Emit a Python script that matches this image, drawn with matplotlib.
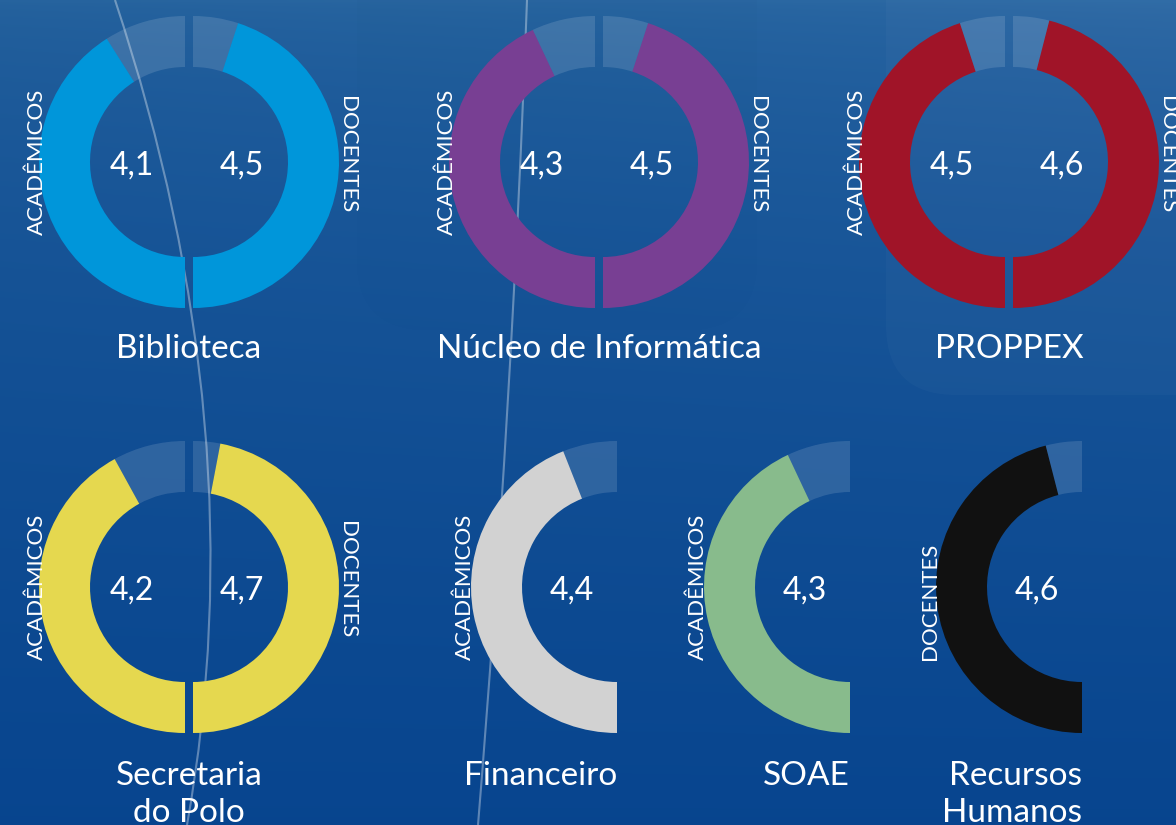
import numpy as np
import matplotlib.pyplot as plt
from matplotlib.patches import Wedge, FancyBboxPatch, PathPatch
from matplotlib.path import Path

# avaliacao dos setores (escala 0-5)
setores = ['Biblioteca', 'Núcleo de Informática', 'PROPPEX',
           'Secretaria\ndo Polo', 'Financeiro', 'SOAE', 'Recursos\nHumanos']
academicos = [4.1, 4.3, 4.5, 4.2, 4.4, 4.3, None]
docentes = [4.5, 4.5, 4.6, 4.7, None, None, 4.6]
cores = ['#0096da', '#783f93', '#a01428', '#e5d84f', '#d2d2d2', '#88bb8c', '#111111']
escala_max = 5.0

W, H = 1176, 825
R_OUT, R_IN = 146, 95
GAP = 4

# centro de cada rosca (pixels, y a partir do topo)
centros = [(189, 162), (599, 162), (1009, 162), (189, 587),
           (617, 587), (850, 587), (1082, 587)]

plt.rcParams['font.family'] = ['Lato', 'DejaVu Sans']

fig = plt.figure(figsize=(W / 100, H / 100), dpi=100)
ax = fig.add_axes([0, 0, 1, 1])
ax.set_xlim(0, W)
ax.set_ylim(0, H)
ax.axis('off')

# fundo em degrade
yy = np.linspace(0, 1, 300)[:, None]
xx = np.linspace(0, 1, 300)[None, :]
t = yy ** 0.55
top = np.array([0.15, 0.39, 0.62])
bot = np.array([0.03, 0.27, 0.56])
grad = top[None, None, :] * (1 - t[..., None]) + bot[None, None, :] * t[..., None]
grad = grad + 0.025 * xx[..., None] * (1 - t[..., None])
ax.imshow(np.clip(grad, 0, 1), extent=[0, W, 0, H], origin='upper', aspect='auto', zorder=0)

# cartoes translucidos
ax.add_patch(FancyBboxPatch((886, H - 395), 400, 500, boxstyle='round,pad=0,rounding_size=70',
                            fc='white', alpha=0.025, ec='none', zorder=1))
ax.add_patch(FancyBboxPatch((357, H - 330), 400, 400, boxstyle='round,pad=0,rounding_size=70',
                            fc='#0a3a70', alpha=0.025, ec='none', zorder=1))

# linhas decorativas
for pts in [[(115, 0), (258, 430), (187, 825)], [(527, 0), (512, 410), (478, 825)]]:
    verts = [(x, H - y) for x, y in pts]
    ax.add_patch(PathPatch(Path(verts, [Path.MOVETO, Path.CURVE3, Path.CURVE3]),
                           fc='none', ec='white', alpha=0.35, lw=1.5, zorder=2))


def meia_rosca(cx, cy, valor, cor):
    frac = valor / escala_max
    meio = 270 - frac * 180
    ax.add_patch(Wedge((cx, cy), R_OUT, meio, 270, width=R_OUT - R_IN, fc=cor, ec='none', zorder=3))
    ax.add_patch(Wedge((cx, cy), R_OUT, 90, meio, width=R_OUT - R_IN, fc='white', alpha=0.13, ec='none', zorder=3))


def meia_rosca_dir(cx, cy, valor, cor):
    frac = valor / escala_max
    meio = -90 + frac * 180
    ax.add_patch(Wedge((cx, cy), R_OUT, -90, meio, width=R_OUT - R_IN, fc=cor, ec='none', zorder=3))
    ax.add_patch(Wedge((cx, cy), R_OUT, meio, 90, width=R_OUT - R_IN, fc='white', alpha=0.13, ec='none', zorder=3))


def fmt(v):
    return f'{v:.1f}'.replace('.', ',')


txt = dict(color='white', fontweight='normal', zorder=5)
FS_VAL, FS_TIT, FS_LAB = 23, 24, 16

for i, nome in enumerate(setores):
    px, py = centros[i]
    cy = H - py
    ac, dc = academicos[i], docentes[i]
    linhas = nome.split('\n')
    if ac is not None and dc is not None:
        meia_rosca(px - GAP, cy, ac, cores[i])
        meia_rosca_dir(px + GAP, cy, dc, cores[i])
        ax.text(px - 57, cy - 13, fmt(ac), ha='center', va='baseline', fontsize=FS_VAL, **txt)
        ax.text(px + 53, cy - 13, fmt(dc), ha='center', va='baseline', fontsize=FS_VAL, **txt)
        ax.text(px - 152, cy - 73, 'ACADÊMICOS', rotation=90, ha='center', va='bottom', fontsize=FS_LAB, **txt)
        ax.text(px + 158, cy + 66, 'DOCENTES', rotation=-90, ha='center', va='top', fontsize=FS_LAB, **txt)
        base = H - 358 if py < 400 else H - 785
        for k, ln in enumerate(linhas):
            ax.text(px, base - 37 * k, ln, ha='center', va='baseline', fontsize=FS_TIT, **txt)
    else:
        v = ac if ac is not None else dc
        rot = 'ACADÊMICOS' if ac is not None else 'DOCENTES'
        meia_rosca(px, cy, v, cores[i])
        ax.text(px - 45, cy - 13, fmt(v), ha='center', va='baseline', fontsize=FS_VAL, **txt)
        ax.text(px - 152, cy - 73, rot, rotation=90, ha='center', va='bottom', fontsize=FS_LAB, **txt)
        for k, ln in enumerate(linhas):
            ax.text(px, H - 785 - 37 * k, ln, ha='right', va='baseline', fontsize=FS_TIT, **txt)

fig.savefig('out.png', dpi=100)
